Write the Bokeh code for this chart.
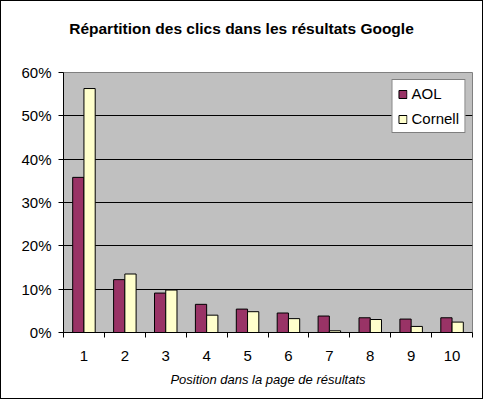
from bokeh.plotting import figure
from bokeh.models import (FixedTicker, NumeralTickFormatter, Range1d, Legend,
                          LegendItem, ColumnDataSource, Div)
from bokeh.layouts import column
from bokeh.transform import dodge
from bokeh.embed import file_html
from bokeh.resources import INLINE

# ---- data ----
positions = [1, 2, 3, 4, 5, 6, 7, 8, 9, 10]
position_labels = ["1", "2", "3", "4", "5", "6", "7", "8", "9", "10"]
aol = [0.358, 0.122, 0.091, 0.065, 0.054, 0.045, 0.038, 0.034, 0.031, 0.034]
cornell = [0.563, 0.135, 0.098, 0.040, 0.048, 0.032, 0.004, 0.030, 0.014, 0.024]
series_names = ["AOL", "Cornell"]
y_ticks = [0.0, 0.1, 0.2, 0.3, 0.4, 0.5, 0.6]

title_text = "Répartition des clics dans les résultats Google"
x_title = "Position dans la page de résultats"

FONT = "Liberation Sans"
AOL_COLOR = "#993366"
CORNELL_COLOR = "#FFFFCC"

src = ColumnDataSource(dict(x=positions, aol=aol, cornell=cornell))

W, H = 481, 397
TITLE_H = 50
BL, BR, BT, BB = 62, 10, 21, 66

title_div = Div(
    text=('<div style="padding-top:17px;text-align:center;'
          'font-family:\'Liberation Sans\';font-size:15.5px;font-weight:bold;'
          'color:black;white-space:nowrap;width:%dpx">%s</div>' % (W, title_text)),
    width=W, height=TITLE_H, margin=0)

p = figure(width=W, height=H - TITLE_H,
           x_range=Range1d(positions[0] - 0.5, positions[-1] + 0.5),
           y_range=Range1d(y_ticks[0], y_ticks[-1]),
           output_backend="svg", toolbar_location=None,
           min_border_left=BL, min_border_right=BR,
           min_border_top=BT, min_border_bottom=BB)

p.background_fill_color = "#C0C0C0"
p.border_fill_color = "white"
p.outline_line_color = "#808080"
p.outline_line_width = 1

bw = 0.275
r1 = p.vbar(x=dodge("x", -bw / 2), top="aol", width=bw, source=src,
            fill_color=AOL_COLOR, line_color="black", line_width=1)
r2 = p.vbar(x=dodge("x", bw / 2), top="cornell", width=bw, source=src,
            fill_color=CORNELL_COLOR, line_color="black", line_width=1)

# grid
p.xgrid.visible = False
p.ygrid.grid_line_color = "black"
p.ygrid.grid_line_width = 1

# y axis
p.yaxis.ticker = FixedTicker(ticks=y_ticks)
p.yaxis.formatter = NumeralTickFormatter(format="0%")
p.yaxis.axis_line_color = "black"
p.yaxis.major_tick_out = 5
p.yaxis.major_tick_in = 0
p.yaxis.minor_tick_line_color = None
p.yaxis.major_label_standoff = 7
p.yaxis.major_label_text_font = FONT
p.yaxis.major_label_text_font_size = "15px"
p.yaxis.major_label_text_color = "black"

# x axis: labels at centres, tick marks between categories
boundaries = [x - 0.5 for x in positions] + [positions[-1] + 0.5]
p.xaxis.ticker = FixedTicker(ticks=positions, minor_ticks=boundaries)
p.xaxis.major_label_overrides = {x: l for x, l in zip(positions, position_labels)}
p.xaxis.axis_line_color = "black"
p.xaxis.major_tick_out = 0
p.xaxis.major_tick_in = 0
p.xaxis.minor_tick_out = 5
p.xaxis.minor_tick_in = 0
p.xaxis.minor_tick_line_color = "black"
p.xaxis.major_label_standoff = 13
p.xaxis.major_label_text_font = FONT
p.xaxis.major_label_text_font_size = "15px"
p.xaxis.major_label_text_color = "black"
p.xaxis.axis_label = x_title
p.xaxis.axis_label_text_font = FONT
p.xaxis.axis_label_text_font_size = "13px"
p.xaxis.axis_label_text_font_style = "italic"
p.xaxis.axis_label_text_color = "black"
p.xaxis.axis_label_standoff = 8

# legend
legend = Legend(items=[LegendItem(label=series_names[0], renderers=[r1]),
                       LegendItem(label=series_names[1], renderers=[r2])],
                location="top_right")
legend.margin = 7
legend.padding = 5
legend.spacing = 8
legend.glyph_width = 10
legend.glyph_height = 10
legend.label_standoff = 4
legend.label_height = 15
legend.label_text_font = FONT
legend.label_text_font_size = "15px"
legend.label_text_color = "black"
legend.border_line_color = "black"
legend.border_line_width = 1
legend.background_fill_color = "white"
legend.background_fill_alpha = 1.0
p.add_layout(legend)

page = column(title_div, p, spacing=0,
              styles={"border": "1px solid black", "background-color": "white",
                      "box-sizing": "content-box"})

open("out.html", "w").write(file_html(page, INLINE))
